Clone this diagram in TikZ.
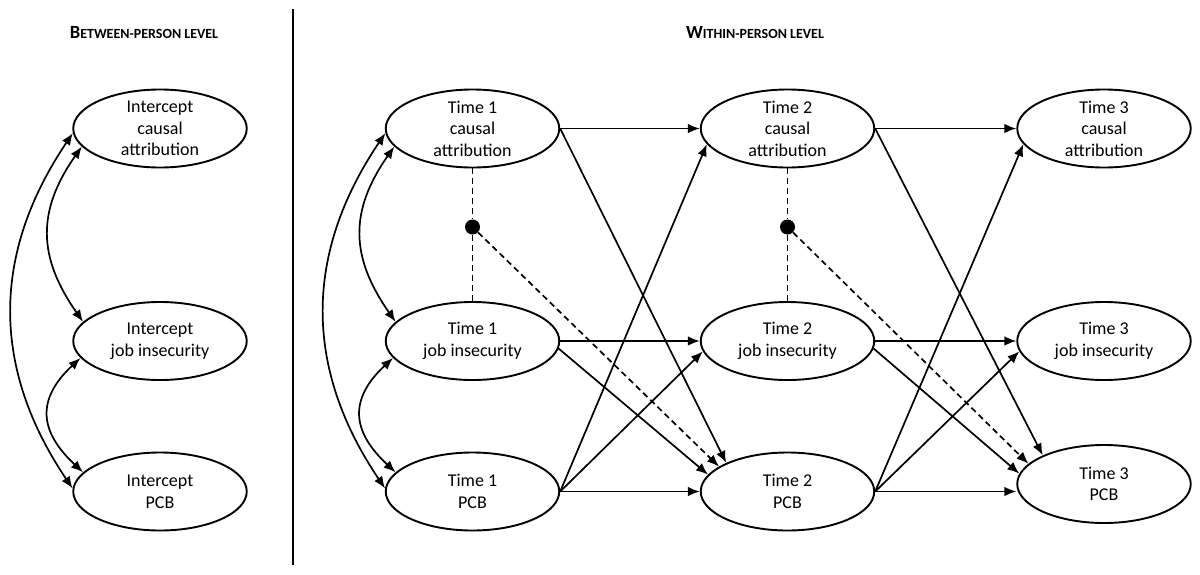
\documentclass[tikz,border=0pt]{standalone}
\usepackage{fontspec}
\setmainfont{Carlito}
\usepackage{tikz}
\usetikzlibrary{shapes.geometric, arrows.meta}
\tikzset{
	latent/.style={ellipse, draw, line width=0.95pt, minimum width=86.75pt, minimum height=39pt,
		inner xsep=0pt, inner ysep=-4pt, align=center, font=\fontsize{9}{10.8}\selectfont},
	head/.style={font=\fontsize{9.3}{11}\selectfont\bfseries},
	dotnode/.style={circle, fill=black, inner sep=0pt, minimum size=7.5pt},
	effect/.style={line width=0.85pt, -{Latex[length=6pt,width=4.8pt]}},
	cov/.style={line width=0.85pt, {Latex[length=6pt,width=4.8pt]}-{Latex[length=6pt,width=4.8pt]}},
	moderate/.style={effect, dash pattern=on 3pt off 2pt},
	link/.style={line width=0.85pt, dash pattern=on 3pt off 2pt}
}
\newcommand{\levelhead}[2]{#1{\fontsize{7}{8}\selectfont #2}}

\begin{document}
\begin{tikzpicture}[x=0.5pt, y=0.5pt]
	\useasboundingbox (0,0) rectangle (1200,-574);
	\node[head] (hbetween) at (144,-33) {\levelhead{B}{ETWEEN-PERSON LEVEL}};
	\node[head] (hwithin) at (755,-33) {\levelhead{W}{ITHIN-PERSON LEVEL}};
	\coordinate (divtop) at (293,-9);
	\coordinate (divbot) at (293,-565);
	\draw[line width=0.95pt] (divtop) -- (divbot);

	\node[latent] (ica) at (160,-128.5) {Intercept\\causal\\attribution};
	\node[latent] (iji) at (160,-341) {Intercept\\job insecurity};
	\node[latent] (ipcb) at (160,-491.5) {Intercept\\PCB};
	\foreach \t/\x/\y in {1/472.5/491.5, 2/787.5/491.5, 3/1104/484} {
		\node[latent] (ca\t) at (\x,-128.5) {Time \t\\causal\\attribution};
		\node[latent] (ji\t) at (\x,-341) {Time \t\\job insecurity};
		\node[latent] (pcb\t) at (\x,-\y) {Time \t\\PCB};
	}

	\foreach \a/\b/\c in {ica/iji/ipcb, ca1/ji1/pcb1} {
		\draw[cov] (\a.183) to[out=236, in=124, looseness=1.05] (\c.178);
		\draw[cov] (\a.193) to[out=235, in=125, looseness=1.15] (\b.166);
		\draw[cov] (\b.192) to[out=223, in=137, looseness=1.35] (\c.166);
	}

	\foreach \i/\j/\ad/\aj in {1/2/160/168, 2/3/165/173} {
		\draw[effect] (ca\i) -- (ca\j);
		\draw[effect] (ji\i) -- (ji\j);
		\draw[effect] (pcb\i.east) -- (pcb\i.east -| pcb\j.west);
		\draw[effect] (ca\i.east) -- (pcb\j.155);
		\draw[effect] (ji\i.355) -- (pcb\j.\aj);
		\draw[effect] (pcb\i.east) -- (ca\j.191);
		\draw[effect] (pcb\i.east) -- (ji\j.187);
		\node[dotnode] (dot\i) at (ca\i |- 0,-227) {};
		\draw[link] (ca\i) -- (dot\i);
		\draw[link] (dot\i) -- (ji\i);
		\draw[moderate] (dot\i) -- (pcb\j.\ad);
	}
\end{tikzpicture}
\end{document}
